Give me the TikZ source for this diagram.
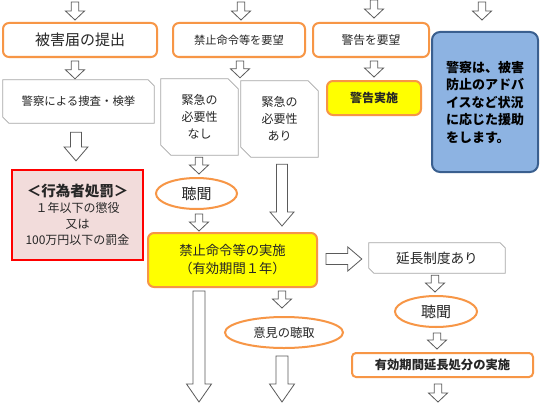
\documentclass[tikz,border=0pt]{standalone}
\usepackage{fontspec}
\newfontfamily\jp{Noto Sans CJK JP}
\usetikzlibrary{shapes.geometric,calc}
\definecolor{orng}{HTML}{F79646}
\definecolor{yel}{HTML}{FFFF00}
\definecolor{bluefill}{HTML}{8DB3E2}
\definecolor{blueline}{HTML}{3A5F8F}
\definecolor{redline}{HTML}{FF0000}
\definecolor{pinkfill}{HTML}{F2DCDB}
\definecolor{txt}{HTML}{262626}
\definecolor{snipgray}{HTML}{A6A6A6}
\definecolor{arrgray}{HTML}{5A5A5A}
\newcommand\jpsz[2]{\jp\fontsize{#1}{#2}\selectfont}
\newcommand\barr[5]{%
  \coordinate (bs) at #1; \coordinate (be) at #2;
  \coordinate (bh) at ($(be)!#5!(bs)$);
  \draw[blockarrow] ($(bs)!#3!90:(be)$) -- ($(bh)!#3!90:(be)$) -- ($(bh)!#4!90:(be)$) -- (be)
    -- ($(bh)!#4!-90:(be)$) -- ($(bh)!#3!-90:(be)$) -- ($(bs)!#3!-90:(be)$) -- cycle;}
\newcommand\smallarr[2]{\barr{#1}{#2}{3.8pt}{9.5pt}{9pt}}
\newcommand\bigarr[2]{\barr{#1}{#2}{5.5pt}{12pt}{14pt}}
\newcommand\longarr[2]{\barr{#1}{#2}{6pt}{12.5pt}{18pt}}
\newcommand\snipframe[2]{%
  \draw[snipline] (#1.north west) -- ($(#1.north east)+(-#2,0)$) -- ($(#1.north east)+(0,#2)$)
    -- (#1.south east) -- ($(#1.south west)+(#2,0)$) -- ($(#1.south west)+(0,-#2)$) -- cycle;}
\begin{document}
\begin{tikzpicture}[x=1pt,y=-1pt,
  base/.style={inner sep=0pt, text=txt, align=center},
  obox/.style={base, draw=orng, line width=2pt, rounded corners=6pt, fill=white},
  ybox/.style={base, draw=orng, line width=2pt, rounded corners=6pt, fill=yel},
  oell/.style={base, ellipse, draw=orng, line width=2pt, fill=white},
  snipbox/.style={base},
  snipline/.style={draw=snipgray, line width=0.7pt},
  blockarrow/.style={draw=arrgray, fill=white, line width=0.8pt, line join=miter}]
\useasboundingbox (0,0) rectangle (540,404);
\fill[white] (0,0) rectangle (540,404);

% top row
\node[obox, minimum width=154pt, minimum height=34pt, font=\jpsz{15}{18}] (higai) at (80,40) {被害届の提出};
\node[obox, minimum width=132pt, minimum height=34pt, font=\jpsz{11.2}{14}] (kyobo) at (239,40) {禁止命令等を要望};
\node[obox, minimum width=116pt, minimum height=34pt, font=\jpsz{11.8}{14}] (wyobo) at (371,40) {警告を要望};
\node[base, draw=blueline, fill=bluefill, line width=2pt, rounded corners=8pt,
      minimum width=106pt, minimum height=140pt, text=black, align=left,
      font=\jpsz{13}{17.5}\bfseries] (blue) at (485,102)
      {警察は、被害\\防止のアドバ\\イスなど状況\\に応じた援助\\をします。};

% second row
\node[snipbox, minimum width=151pt, minimum height=43pt, font=\jpsz{11.4}{14}] (keisatsu) at (78.5,101.5) {警察による捜査・検挙};
\snipframe{keisatsu}{6}
\node[snipbox, minimum width=77pt, minimum height=76pt, font=\jpsz{12}{17}] (nashi) at (199.5,117) {緊急の\\必要性\\なし};
\snipframe{nashi}{10}
\node[snipbox, minimum width=77pt, minimum height=76pt, font=\jpsz{12}{17}] (ari) at (279.5,119) {緊急の\\必要性\\あり};
\snipframe{ari}{10}
\node[ybox, minimum width=94pt, minimum height=34pt, font=\jpsz{12}{14}\bfseries] (wjisshi) at (374,98) {警告実施};

% third row
\node[base, draw=redline, fill=pinkfill, line width=2.2pt, minimum width=131pt, minimum height=90pt,
      font=\jpsz{12}{16}] (shobatsu) at (77.5,215)
      {{\jpsz{14.5}{16}\bfseries ＜行為者処罰＞}\\１年以下の懲役\\又は\\100万円以下の罰金};
\node[oell, minimum width=81pt, minimum height=31pt, font=\jpsz{15}{18}] (chomon1) at (196.5,193.5) {聴聞};
\node[ybox, minimum width=169pt, minimum height=54pt, font=\jpsz{13.3}{18}] (jisshi) at (232.5,260) {禁止命令等の実施\\（有効期間１年）};
\node[snipbox, minimum width=136pt, minimum height=30pt, font=\jpsz{13.6}{16}] (encho) at (437,258) {延長制度あり};
\snipframe{encho}{5}
\node[oell, minimum width=82pt, minimum height=31pt, font=\jpsz{15}{18}] (chomon2) at (436,311.5) {聴聞};
\node[oell, minimum width=118pt, minimum height=31pt, font=\jpsz{12.3}{14}] (iken) at (284,332.5) {意見の聴取};
\node[obox, minimum width=181pt, minimum height=24pt, rounded corners=4pt, font=\jpsz{12.3}{14}\bfseries] (enshobun) at (442.5,365) {有効期間延長処分の実施};

% free ends
\coordinate (t1) at (75,2);
\coordinate (t2) at (241,2);
\coordinate (t3) at (374,0);
\coordinate (t4) at (482,2);
\coordinate (b1) at (199,402);
\coordinate (b2) at (282,402);
\coordinate (b3) at (438,402);

% arrows
\smallarr{(t1)}{($(higai.north)+(-5,-2)$)}
\smallarr{(t2)}{($(kyobo.north)+(2,-2)$)}
\smallarr{(t3)}{($(wyobo.north)+(3,-4)$)}
\smallarr{(t4)}{($(blue.north)+(-3,-11)$)}
\smallarr{($(higai.south)+(-5,3)$)}{($(keisatsu.north)+(-3.5,-1)$)}
\smallarr{($(kyobo.south)+(1,3)$)}{($(nashi.north east)!0.5!(ari.north west)+(0.5,-2)$)}
\smallarr{($(wyobo.south)+(3,3)$)}{($(wjisshi.north)+(0,-3)$)}
\bigarr{($(keisatsu.south)+(-2.5,9)$)}{($(shobatsu.north)+(-1.5,-8)$)}
\smallarr{($(nashi.south)+(-0.5,2)$)}{($(chomon1.north)+(2.5,-3)$)}
\smallarr{($(chomon1.south)+(2.5,4)$)}{($(jisshi.north)+(-33.5,-1)$)}
\bigarr{($(ari.south)+(2.5,7)$)}{($(jisshi.north)+(49.5,-6)$)}
\bigarr{($(jisshi.east)+(8,-1)$)}{($(encho.west)+(-7,1)$)}
\longarr{($(jisshi.south)+(-33.5,3)$)}{(b1)}
\smallarr{($(jisshi.south)+(49.5,3)$)}{($(iken.north)+(-2,-8)$)}
\longarr{($(iken.south)+(-2,7)$)}{(b2)}
\smallarr{($(encho.south)+(-2,2)$)}{($(chomon2.north)+(-1,-3)$)}
\smallarr{($(chomon2.south)+(1,5)$)}{($(enshobun.north)+(-5.5,-3)$)}
\smallarr{($(enshobun.south)+(-4.5,6)$)}{(b3)}
\end{tikzpicture}
\end{document}
